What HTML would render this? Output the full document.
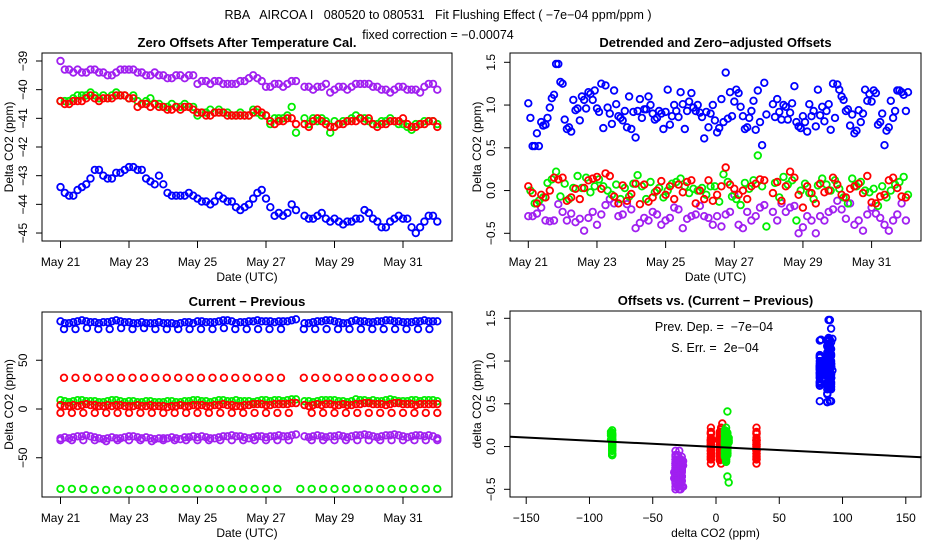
<!DOCTYPE html>
<html><head><meta charset="utf-8"><style>
html,body{margin:0;padding:0;background:#fff;}
svg{display:block;font-family:"Liberation Sans",Arial,sans-serif;}
text{white-space:pre;}
</style></head><body>
<svg id="chart" width="936" height="540" viewBox="0 0 936 540" xmlns="http://www.w3.org/2000/svg">
<rect width="936" height="540" fill="#fff"/>
<text x="438" y="19" text-anchor="middle" font-size="12.5" xml:space="preserve">RBA   AIRCOA I   080520 to 080531   Fit Flushing Effect ( −7e−04 ppm/ppm )</text>
<text x="438" y="39" text-anchor="middle" font-size="12.5">fixed correction = −0.00074</text>
</svg>
<script>
// ---- time-series data (8 samples/day from May 21 00:00; index 56 = gap) ----
const tStart = 21, tStep = 0.125;
const tlPurple = [-39.0,-39.3,-39.3,-39.4,-39.3,-39.4,-39.4,-39.3, -39.3,-39.4,-39.4,-39.5,-39.5,-39.4,-39.3,-39.3, -39.3,-39.3,-39.4,-39.4,-39.5,-39.5,-39.4,-39.5, -39.5,-39.6,-39.6,-39.5,-39.5,-39.6,-39.5,-39.5, -39.8,-39.7,-39.7,-39.8,-39.7,-39.7,-39.8,-39.8, -39.8,-39.8,-39.7,-39.7,-39.6,-39.5,-39.6,-39.7, -39.9,-39.9,-39.8,-39.8,-39.9,-39.8,-39.7,-39.7, null, -39.9,-39.9,-40.0,-39.9,-39.9,-39.8,-40.1, -40.0,-39.9,-39.9,-40.0,-39.9,-39.8,-39.8,-39.8, -39.8,-39.9,-39.9,-40.0,-40.0,-40.1,-40.0,-39.9, -39.9,-40.0,-40.0,-40.0,-40.1,-39.9,-39.8,-39.8, -40.0];
const tlGreen = [-40.4,-40.4,-40.4,-40.3,-40.2,-40.2,-40.2,-40.1, -40.2,-40.3,-40.2,-40.3,-40.2,-40.1,-40.2,-40.2, -40.3,-40.2,-40.4,-40.5,-40.4,-40.3,-40.5,-40.5, -40.6,-40.6,-40.5,-40.6,-40.6,-40.5,-40.6,-40.6, -40.9,-40.8,-40.8,-40.7,-40.8,-40.7,-40.8,-40.8, -40.9,-40.9,-40.8,-40.9,-40.9,-40.7,-40.8,-40.9, -40.9,-41.2,-41.0,-41.0,-41.0,-40.9,-40.6,-41.5, null, -41.0,-41.2,-41.0,-41.1,-41.0,-41.1,-41.5, -41.1,-41.2,-41.1,-41.1,-41.0,-40.9,-41.0,-41.0, -41.1,-41.2,-41.2,-41.1,-41.1,-41.0,-41.1,-41.2, -41.2,-41.3,-41.4,-41.2,-41.2,-41.1,-41.1,-41.1, -41.2];
const tlRed = [-40.4,-40.5,-40.5,-40.4,-40.4,-40.4,-40.3,-40.2, -40.3,-40.4,-40.3,-40.3,-40.3,-40.2,-40.2,-40.2, -40.3,-40.3,-40.6,-40.5,-40.5,-40.6,-40.5,-40.6, -40.6,-40.7,-40.7,-40.6,-40.7,-40.6,-40.6,-40.7, -40.8,-40.8,-40.9,-40.9,-40.8,-40.8,-40.8,-40.9, -40.9,-40.9,-40.9,-40.9,-40.9,-40.8,-40.7,-40.8, -40.9,-41.1,-41.2,-41.1,-41.1,-41.0,-41.0,-41.2, null, -41.2,-41.3,-41.1,-41.0,-41.1,-41.2,-41.3, -41.3,-41.2,-41.2,-41.1,-41.1,-41.1,-41.0,-41.1, -41.0,-41.2,-41.3,-41.2,-41.2,-41.1,-41.1,-41.1, -41.0,-41.2,-41.3,-41.3,-41.2,-41.2,-41.1,-41.1, -41.3];
const tlBlue = [-43.4,-43.6,-43.7,-43.7,-43.5,-43.4,-43.3,-43.1, -42.8,-42.8,-43.0,-43.1,-43.1,-42.9,-42.9,-42.8, -42.7,-42.7,-42.8,-42.8,-43.1,-43.2,-43.3,-43.0, -43.3,-43.6,-43.7,-43.7,-43.7,-43.7,-43.6,-43.7, -43.8,-43.9,-43.9,-44.0,-43.9,-43.7,-43.8,-43.9, -43.9,-44.1,-44.2,-44.1,-44.0,-43.8,-43.6,-43.5, -43.8,-44.1,-44.4,-44.3,-44.4,-44.3,-44.0,-44.2, null, -44.4,-44.5,-44.5,-44.4,-44.3,-44.5,-44.6, -44.5,-44.6,-44.7,-44.6,-44.6,-44.5,-44.5,-44.2, -44.3,-44.5,-44.6,-44.8,-44.8,-44.6,-44.5,-44.4, -44.5,-44.5,-44.8,-45.0,-44.8,-44.6,-44.4,-44.4, -44.6];

const trBlue = [1.02,0.52,0.67,0.80,0.77,0.97,1.12,1.48, 1.25,0.72,0.69,0.94,0.82,1.06,1.15,1.06, 0.96,1.25,1.23,0.90,1.17,0.87,0.82,0.74, 0.72,0.62,1.07,0.95,1.10,0.90,0.85,0.90, 0.92,0.77,1.00,0.86,1.01,0.93,1.14,0.93, 0.91,0.61,0.74,1.00,0.68,1.07,1.38,1.15, 1.04,1.14,0.87,0.74,0.93,0.71,0.80,1.26, null, 1.01,1.07,0.83,0.98,0.91,1.22,0.75, 0.87,0.69,0.87,0.75,0.88,0.81,1.01,1.25, 1.24,1.10,0.93,0.76,0.67,0.94,0.90,1.05, 1.04,1.14,0.80,0.53,0.74,0.85,1.17,1.15, 0.93];
const trBlue2 = [0.85,0.52,0.52,0.76,0.85,1.08,1.48,1.27, 0.83,0.74,1.06,0.96,1.10,0.96,1.13,1.17, 0.92,0.73,0.97,0.78,1.01,0.85,0.93,1.10, 0.92,0.93,0.85,0.95,1.00,0.83,0.93,0.72, 1.18,0.87,0.93,1.15,0.72,1.04,0.97,1.00, 0.86,0.92,0.90,0.82,0.73,0.80,0.84,0.87, 1.18,0.98,0.72,0.85,1.05,1.17,0.53,0.89, null, 0.86,0.92,1.00,0.83,1.02,0.80,0.73, 0.80,1.01,0.93,1.18,0.98,0.93,0.71,0.85, 1.18,1.06,0.95,0.89,0.70,0.80,1.18,1.13, 1.17,0.77,0.90,0.70,1.05,0.93,1.17,1.12, 1.15];
const trGreen = [0.00,-0.15,-0.12,-0.08,0.09,0.13,0.22,-0.07, 0.08,-0.10,0.03,0.17,0.03,0.15,-0.02,0.05, 0.13,0.05,0.00,-0.05,0.07,-0.10,0.03,-0.07, 0.08,0.18,0.05,-0.10,0.10,-0.02,0.03,-0.08, 0.00,0.08,0.10,0.14,0.05,-0.03,0.02,0.00, 0.03,-0.05,0.05,0.05,-0.13,0.19,0.10,-0.07, -0.10,-0.17,0.09,0.02,0.12,0.41,0.05,-0.42, null, 0.09,-0.08,0.16,0.07,0.12,-0.35,0.00, 0.08,-0.03,-0.10,0.06,0.14,0.07,0.00,0.12, 0.02,-0.08,-0.15,0.14,0.05,0.10,0.00,-0.02, 0.02,-0.18,0.05,-0.08,0.00,0.07,0.10,0.16, -0.05];
const trRed = [0.05,-0.03,-0.15,-0.05,-0.08,0.00,0.15,0.13, 0.15,-0.12,-0.08,0.02,-0.10,0.03,0.12,0.14, 0.16,0.02,0.20,0.17,-0.07,-0.15,0.06,-0.12, -0.04,0.08,-0.16,0.07,-0.13,-0.08,0.00,0.11, -0.05,0.05,-0.10,0.07,-0.02,0.10,0.12,-0.15, 0.00,-0.10,0.12,-0.12,-0.05,0.05,0.27,0.07, 0.02,-0.05,0.00,-0.10,0.05,0.08,0.13,0.12, null, -0.03,0.10,-0.12,0.05,0.22,0.15,-0.05, -0.20,0.05,-0.03,-0.15,0.08,-0.02,0.00,0.15, 0.07,-0.05,-0.08,0.02,0.05,0.08,-0.03,0.17, -0.14,-0.15,-0.07,-0.05,0.12,0.15,0.03,-0.07, -0.08];
const trPurple = [-0.30,-0.30,-0.27,-0.20,-0.35,-0.36,-0.35,-0.16, -0.25,-0.35,-0.27,-0.37,-0.33,-0.47,-0.32,-0.25, -0.40,-0.28,-0.17,-0.10,-0.15,-0.30,-0.28,-0.16, -0.22,-0.44,-0.38,-0.32,-0.35,-0.25,-0.28,-0.40, -0.35,-0.32,-0.20,-0.22,-0.44,-0.33,-0.30,-0.28, -0.18,-0.30,-0.32,-0.40,-0.30,-0.42,-0.28,-0.25, -0.05,-0.40,-0.44,-0.25,-0.35,-0.30,-0.20,-0.17, null, -0.25,-0.35,-0.15,-0.25,-0.20,-0.18,-0.50, -0.43,-0.30,-0.35,-0.50,-0.30,-0.35,-0.25,-0.22, -0.12,-0.22,-0.33,-0.15,-0.40,-0.35,-0.47,-0.28, -0.20,-0.27,-0.32,-0.40,-0.47,-0.35,-0.28,-0.15, -0.35];

const blBlue = [90,88,88,89,90,91,90,89, 89,88,89,89,90,91,90,89, 89,88,88,89,88,88,88,89, 88,88,88,87,88,89,89,88, 90,90,89,89,89,90,91,91, 90,88,89,89,90,90,91,90, 90,90,89,90,90,90,91,92, null, 88,88,89,90,90,91,91, 90,89,88,88,90,91,90,90, 89,89,90,90,91,91,90,90, 89,89,89,90,90,91,90,90, 90];
const blGreen = [9,8,7,8,9,9,8,8, 8,7,7,8,9,9,8,7, 8,8,7,7,8,8,7,7, 7,8,8,7,7,8,8,9, 9,8,8,7,8,9,9,8, 8,9,8,8,8,7,8,9, 9,8,9,9,8,9,10,10, null, 8,8,7,8,9,9,9, 9,8,8,7,8,10,9,9, 8,9,8,8,9,10,9,8, 8,8,9,9,8,9,9,9, 8];
const blRed = [4,3,3,4,3,4,5,4, 4,3,3,4,3,4,4,3, 3,3,4,3,3,4,3,3, 3,2,3,3,4,3,3,4, 4,4,3,3,4,4,5,4, 4,3,3,4,4,5,5,5, 4,4,5,5,5,5,6,6, null, 4,3,4,5,4,5,5, 4,4,5,4,4,5,5,6, 6,5,5,5,4,5,6,6, 5,5,5,4,5,5,5,5, 5];
const blPurple = [-30,-29,-30,-29,-28,-28,-27,-28, -29,-30,-31,-30,-29,-30,-30,-29, -28,-28,-29,-30,-29,-30,-31,-30, -30,-30,-29,-30,-31,-29,-29,-28, -29,-28,-29,-30,-30,-29,-28,-28, -27,-28,-28,-29,-30,-29,-28,-28, -29,-28,-28,-27,-28,-28,-27,-26, null, -28,-29,-28,-27,-28,-29,-28, -28,-27,-28,-29,-28,-27,-27,-26, -27,-28,-29,-28,-27,-27,-26,-27, -28,-29,-28,-27,-27,-28,-27,-28, -30];
// sparse reference readings (3 per day; index 21 = gap)
const sStep = 1/3;
const blBlueLow = [null,82,82,83,82,82,83,82,83,82,82,82,82,82,82,83,82,82,82,82,82,null,82,82,82,82,82,82,82,82,82,82,82,82];
const blRedHigh = [null,32,32,32,32,32,32,32,32,32,32,32,32,32,32,32,32,32,32,32,32,null,32,32,32,32,32,32,32,32,32,32,32,32];
const blRedLow = [-4,-4,-4,-4,-4,-4,-4,-4,-4,-4,-4,-4,-4,-4,-4,-4,-4,-4,-4,-4,-4,null,-4,-4,-4,-4,-4,-4,-4,-4,-4,-4,-4,-4];
const blPurpleLow = [-32,-32,-32,-32,-33,-32,-32,-32,-33,-32,-32,-32,-32,-32,-32,-32,-32,-32,-32,-32,-32,null,-32,-32,-32,-32,-32,-32,-32,-32,-32,-32,-32,-32];
const blGreenLow = [-82,-82,-82,-83,-83,-83,-83,-82,-82,-82,-82,-82,-82,-82,-82,-82,-82,-82,-82,-82,null,-82,-82,-82,-82,-82,-82,-82,-82,-82,-82,-82,-82,-82];
// fit
const fitSlope = -0.00074, fitIntercept = -0.005;
const dateTicks = [21,23,25,27,29,31];
const dateLabels = ["May 21","May 23","May 25","May 27","May 29","May 31"];
const tlYTicks = [-39,-40,-41,-42,-43,-44,-45];
const trYTicks = [1.5,1.0,0.5,0.0,-0.5];
const trYLabels = ["1.5","1.0","0.5","0.0","-0.5"];
const blYTicks = [50,0,-50];
const brXTicks = [-150,-100,-50,0,50,100,150];

const COL = {blue:"#0000ff",red:"#ff0000",green:"#00ee00",purple:"#a020f0"};
const NS = "http://www.w3.org/2000/svg";
const svg = document.getElementById('chart');
function mk(tag, attrs, parent){const e=document.createElementNS(NS,tag);for(const k in attrs)e.setAttribute(k,attrs[k]);(parent||svg).appendChild(e);return e;}
const minus = s => String(s).replace('-', '\u2212');

function panel(name, L, R, T, B, title, xlab, ylab){
  const g = mk('g',{});
  
  
  const box = mk('rect',{x:L,y:T,width:R-L,height:B-T,fill:'none',stroke:'#000','stroke-width':1},g);
  
  
  const t = mk('text',{x:(L+R)/2,y:T-6,'text-anchor':'middle','font-size':13,'font-weight':'bold'},g);
  t.textContent = title;
  
  
  const xl = mk('text',{x:(L+R)/2,y:B+40,'text-anchor':'middle','font-size':12},g);
  xl.textContent = xlab;
  
  
  const cy=(T+B)/2, yx=L-29;
  const yl = mk('text',{x:yx,y:cy,'text-anchor':'middle','font-size':12,transform:`rotate(-90 ${yx} ${cy})`},g);
  yl.textContent = ylab;
  
  
  return g;
}
function xAxis(g, B, positions, labels){
  const ax = mk('g',{},g);
  
  
  mk('line',{x1:positions[0],x2:positions[positions.length-1],y1:B,y2:B,stroke:'#000'},ax);
  positions.forEach((p,i)=>{
    mk('line',{x1:p,x2:p,y1:B,y2:B+7,stroke:'#000'},ax);
    const tx = mk('text',{x:p,y:B+25,'text-anchor':'middle','font-size':12},ax);
    tx.textContent = minus(labels[i]);
    
    
  });
}
function yAxis(g, L, positions, labels){
  const ax = mk('g',{},g);
  
  
  mk('line',{x1:L,x2:L,y1:positions[0],y2:positions[positions.length-1],stroke:'#000'},ax);
  positions.forEach((p,i)=>{
    mk('line',{x1:L-6,x2:L,y1:p,y2:p,stroke:'#000'},ax);
    const x = L-15;
    const tx = mk('text',{x:x,y:p,'text-anchor':'middle','font-size':12,transform:`rotate(-90 ${x} ${p})`},ax);
    tx.textContent = minus(labels[i]);
    
    
  });
}
function pt(g, x, y, col){
  const c = mk('circle',{cx:x.toFixed(1),cy:y.toFixed(1),r:3.3,fill:'none',stroke:col,'stroke-width':1.8},g);
  
  
}
function series(g, name, arr, t0, step, xf, yf, col){
  const sg = mk('g',{},g);
  
  
  arr.forEach((v,i)=>{ if(v===null) return; pt(sg, xf(t0+i*step), yf(v), col); });
}

// ---- Panel 1: top-left ----
{
  const L=42,R=452,T=53,B=241;
  const xf = t => 60.5+(t-21)*34.25, yf = v => 61+(-39-v)*28.67;
  const g = panel('zero-offsets-panel',L,R,T,B,'Zero Offsets After Temperature Cal.','Date (UTC)','Delta CO2 (ppm)');
  xAxis(g,B,dateTicks.map(xf),dateLabels);
  yAxis(g,L,tlYTicks.map(yf),tlYTicks);
  series(g,'series-purple',tlPurple,tStart,tStep,xf,yf,COL.purple);
  series(g,'series-green',tlGreen,tStart,tStep,xf,yf,COL.green);
  series(g,'series-red',tlRed,tStart,tStep,xf,yf,COL.red);
  series(g,'series-blue',tlBlue,tStart,tStep,xf,yf,COL.blue);
}
// ---- Panel 2: top-right ----
{
  const L=510,R=921,T=53,B=241;
  const xf = t => 528.3+(t-21)*34.33, yf = v => 62.3+(1.5-v)*85.5;
  const g = panel('detrended-panel',L,R,T,B,'Detrended and Zero\u2212adjusted Offsets','Date (UTC)','Delta CO2 (ppm)');
  xAxis(g,B,dateTicks.map(xf),dateLabels);
  yAxis(g,L,trYTicks.map(yf),trYLabels);
  series(g,'series-blue',trBlue,tStart,tStep,xf,yf,COL.blue);
  series(g,'series-blue-b',trBlue2,tStart+0.06,tStep,xf,yf,COL.blue);
  series(g,'series-purple',trPurple,tStart,tStep,xf,yf,COL.purple);
  series(g,'series-green',trGreen,tStart+0.06,tStep,xf,yf,COL.green);
  series(g,'series-red',trRed,tStart,tStep,xf,yf,COL.red);
}
// ---- Panel 3: bottom-left ----
{
  const L=42,R=452,T=312,B=497;
  const xf = t => 60.5+(t-21)*34.25, yf = v => 409-v*0.975;
  const g = panel('current-minus-previous-panel',L,R,T,B,'Current \u2212 Previous','Date (UTC)','Delta CO2 (ppm)');
  xAxis(g,B,dateTicks.map(xf),dateLabels);
  yAxis(g,L,blYTicks.map(yf),blYTicks);
  series(g,'series-blue',blBlue,tStart,tStep,xf,yf,COL.blue);
  series(g,'series-blue-low',blBlueLow,tStart-0.23,sStep,xf,yf,COL.blue);
  series(g,'series-red-high',blRedHigh,tStart-0.23,sStep,xf,yf,COL.red);
  series(g,'series-green',blGreen,tStart,tStep,xf,yf,COL.green);
  series(g,'series-red',blRed,tStart,tStep,xf,yf,COL.red);
  series(g,'series-red-low',blRedLow,tStart,sStep,xf,yf,COL.red);
  series(g,'series-purple',blPurple,tStart,tStep,xf,yf,COL.purple);
  series(g,'series-purple-low',blPurpleLow,tStart,sStep,xf,yf,COL.purple);
  series(g,'series-green-low',blGreenLow,tStart,sStep,xf,yf,COL.green);
}
// ---- Panel 4: bottom-right ----
{
  const L=510,R=921,T=311,B=497;
  const xf = v => 716+v*1.2653, yf = v => 318.3+(1.5-v)*85.5;
  const g = panel('offsets-vs-diff-panel',L,R,T,B,'Offsets vs. (Current \u2212 Previous)','delta CO2 (ppm)','delta CO2 (ppm)');
  xAxis(g,B,brXTicks.map(xf),brXTicks);
  yAxis(g,L,trYTicks.map(yf),trYLabels);
  function pairs(name, xs, ys, col, sparse){
    const sg = mk('g',{},g);
    
    
    xs.forEach((xv,i)=>{
      const j = sparse ? Math.min(ys.length-1, Math.round(i*8/3)) : i;
      const yv = ys[j];
      if(xv===null || yv===null || yv===undefined) return;
      pt(sg, xf(xv), yf(yv), col);
    });
  }
  pairs('scatter-green-low',blGreenLow,trGreen,COL.green,true);
  pairs('scatter-purple',blPurple,trPurple,COL.purple,false);
  pairs('scatter-purple-low',blPurpleLow,trPurple,COL.purple,true);
  pairs('scatter-red',blRed,trRed,COL.red,false);
  pairs('scatter-red-low',blRedLow,trRed,COL.red,true);
  pairs('scatter-green',blGreen,trGreen,COL.green,false);
  pairs('scatter-red-high',blRedHigh,trRed,COL.red,true);
  pairs('scatter-blue',blBlue,trBlue,COL.blue,false);
  pairs('scatter-blue-b',blBlue,trBlue2,COL.blue,false);
  pairs('scatter-blue-low',blBlueLow,trBlue,COL.blue,true);
  const x0=-162.5, x1=162.5;
  const fl = mk('line',{x1:xf(x0),y1:yf(fitIntercept+fitSlope*x0),x2:xf(x1),y2:yf(fitIntercept+fitSlope*x1),stroke:'#000','stroke-width':2},g);
  
  
  const a1 = mk('text',{x:714,y:331,'text-anchor':'middle','font-size':12.5},g);
  a1.textContent = 'Prev. Dep. =  \u22127e\u221204';
  
  
  const a2 = mk('text',{x:715,y:352,'text-anchor':'middle','font-size':12.5},g);
  a2.textContent = 'S. Err. =  2e\u221204';
  
  
}
</script>
</body></html>
